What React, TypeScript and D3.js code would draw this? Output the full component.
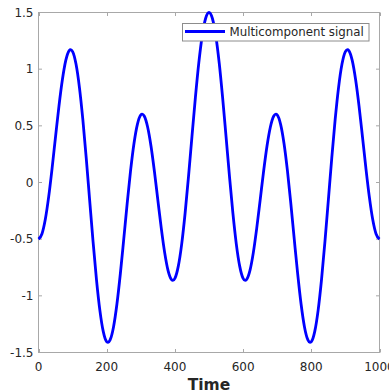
import React, { useRef, useEffect } from 'react';
import * as d3 from 'd3';

// samples (time, value)
const timeValues = [
  0, 10, 20, 30, 40, 50, 60, 70, 80, 90, 94, 100, 110, 120, 130, 140, 150, 160, 170, 180, 190, 200, 204, 210, 220, 230, 240, 250,
  260, 270, 280, 290, 300, 304, 310, 320, 330, 340, 350, 360, 370, 380, 390, 394, 400, 410, 420, 430, 440, 450, 460, 470, 480, 490, 500,
  510, 520, 530, 540, 550, 560, 570, 580, 590, 600, 606, 610, 620, 630, 640, 650, 660, 670, 680, 690, 696, 700, 710, 720, 730, 740, 750,
  760, 770, 780, 790, 796, 800, 810, 820, 830, 840, 850, 860, 870, 880, 890, 900, 906, 910, 920, 930, 940, 950, 960, 970, 980, 990, 1000,
];
const signalValues = [
  -0.5, -0.455, -0.325, -0.123, 0.129, 0.405, 0.674, 0.906, 1.077, 1.164, 1.172, 1.155, 1.045, 0.84, 0.556, 0.215, -0.155, -0.522, -0.856, -1.128, -1.316, -1.405, -1.411, -1.389, -1.274, -1.072, -0.805, -0.5,
  -0.187, 0.104, 0.344, 0.513, 0.596, 0.603, 0.587, 0.49, 0.32, 0.096, -0.155, -0.403, -0.619, -0.778, -0.857, -0.864, -0.846, -0.738, -0.541, -0.269, 0.056, 0.405, 0.747, 1.053, 1.293, 1.447, 1.5,
  1.447, 1.293, 1.053, 0.747, 0.405, 0.056, -0.269, -0.541, -0.738, -0.846, -0.864, -0.857, -0.778, -0.619, -0.403, -0.155, 0.096, 0.32, 0.49, 0.587, 0.603, 0.596, 0.513, 0.344, 0.104, -0.187, -0.5,
  -0.805, -1.072, -1.274, -1.389, -1.411, -1.405, -1.316, -1.128, -0.856, -0.522, -0.155, 0.215, 0.556, 0.84, 1.045, 1.155, 1.172, 1.164, 1.077, 0.906, 0.674, 0.405, 0.129, -0.123, -0.325, -0.455, -0.5,
];
const xTicks = [0, 200, 400, 600, 800, 1000];
const yTicks = [-1.5, -1, -0.5, 0, 0.5, 1, 1.5];
const seriesName = 'Multicomponent signal';
const xLabel = 'Time';

const W = 389;
const H = 392;
const FONT = '"DejaVu Sans", sans-serif';

function App() {
  const svgRef = useRef<SVGSVGElement>(null);

  useEffect(() => {
    const svg = d3.select(svgRef.current);
    svg.selectAll('*').remove();

    const left = 38.5, right = 379.5, top = 12.5, bottom = 352.5;
    const x = d3.scaleLinear().domain([0, 1000]).range([left, right]);
    const y = d3.scaleLinear().domain([-1.5, 1.5]).range([bottom, top]);
    const axisColor = '#a8a8a8';
    const textColor = '#262626';

    // box
    svg.append('rect')
      .attr('x', left).attr('y', top)
      .attr('width', right - left).attr('height', bottom - top)
      .attr('fill', 'none').attr('stroke', axisColor).attr('stroke-width', 1);

    // inward ticks on all sides
    const tl = 3.5;
    const g = svg.append('g').attr('stroke', axisColor).attr('stroke-width', 1);
    xTicks.forEach(t => {
      const px = Math.round(x(t)) + 0.5;
      g.append('line').attr('x1', px).attr('x2', px).attr('y1', bottom).attr('y2', bottom - tl);
      g.append('line').attr('x1', px).attr('x2', px).attr('y1', top).attr('y2', top + tl);
    });
    yTicks.forEach(t => {
      const py = y(t);
      g.append('line').attr('x1', left).attr('x2', left + tl).attr('y1', py).attr('y2', py);
      g.append('line').attr('x1', right).attr('x2', right - tl).attr('y1', py).attr('y2', py);
    });

    svg.append('g').selectAll('text').data(xTicks).join('text')
      .attr('x', d => x(d)).attr('y', 370.5)
      .attr('text-anchor', 'middle')
      .attr('font-family', FONT).attr('font-size', 12).attr('fill', textColor)
      .text(d => String(d));

    svg.append('g').selectAll('text').data(yTicks).join('text')
      .attr('x', 33.5).attr('y', d => y(d) + 4.2)
      .attr('text-anchor', 'end')
      .attr('font-family', FONT).attr('font-size', 12).attr('fill', textColor)
      .text(d => String(d));

    svg.append('text')
      .attr('x', (left + right) / 2).attr('y', 389.5)
      .attr('text-anchor', 'middle')
      .attr('font-family', FONT).attr('font-size', 15.5).attr('font-weight', 'bold')
      .attr('fill', textColor)
      .text(xLabel);

    const line = d3.line<number>()
      .x((_, i) => x(timeValues[i]))
      .y(d => y(d))
      .curve(d3.curveMonotoneX);

    svg.append('path')
      .datum(signalValues)
      .attr('fill', 'none')
      .attr('stroke', '#0000ff')
      .attr('stroke-width', 2.8)
      .attr('d', line);

    // legend
    const lg = svg.append('g');
    lg.append('rect')
      .attr('x', 182.5).attr('y', 23.5).attr('width', 186.5).attr('height', 17.5)
      .attr('fill', 'white').attr('stroke', '#8c8c8c').attr('stroke-width', 1);
    lg.append('line')
      .attr('x1', 185).attr('x2', 225).attr('y1', 31.5).attr('y2', 31.5)
      .attr('stroke', '#0000ff').attr('stroke-width', 2.8);
    lg.append('text')
      .attr('x', 229.5).attr('y', 36)
      .attr('font-family', FONT).attr('font-size', 11.8).attr('fill', textColor)
      .text(seriesName);
  }, []);

  return (
    <svg
      ref={svgRef}
      width={W}
      height={H}
      style={{ position: 'absolute', left: 0, top: 0, background: 'white' }}
    />
  );
}

export default App;
